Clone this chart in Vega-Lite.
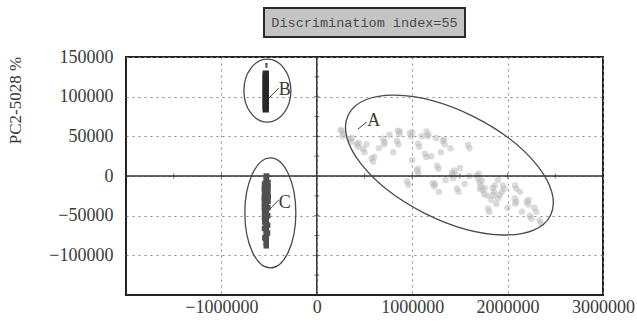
{
  "$schema": "https://vega.github.io/schema/vega-lite/v6.json",
  "autosize": {"type": "pad"},
  "padding": {"left": 5, "top": 7, "right": 0, "bottom": 0},
  "background": "white",
  "center": true,
  "bounds": "flush",
  "spacing": 20,
  "datasets": {
    "pts": [
      {"g":"A","x":262000,"y":57000},{"g":"A","x":280000,"y":53000},{"g":"A","x":270000,"y":50000},{"g":"A","x":250000,"y":58000},
      {"g":"A","x":345000,"y":47000},{"g":"A","x":360000,"y":43000},{"g":"A","x":368000,"y":48000},
      {"g":"A","x":420000,"y":40000},{"g":"A","x":435000,"y":37000},{"g":"A","x":440000,"y":42000},
      {"g":"A","x":485000,"y":34000},{"g":"A","x":500000,"y":30000},
      {"g":"A","x":575000,"y":22000},{"g":"A","x":590000,"y":18000},{"g":"A","x":600000,"y":24000},
      {"g":"A","x":695000,"y":47000},{"g":"A","x":710000,"y":43000},{"g":"A","x":705000,"y":40000},
      {"g":"A","x":850000,"y":57000},{"g":"A","x":865000,"y":53000},{"g":"A","x":870000,"y":56000},
      {"g":"A","x":840000,"y":44000},{"g":"A","x":855000,"y":40000},
      {"g":"A","x":975000,"y":54000},{"g":"A","x":990000,"y":50000},{"g":"A","x":1000000,"y":55000},
      {"g":"A","x":1060000,"y":41000},{"g":"A","x":1075000,"y":37000},
      {"g":"A","x":1150000,"y":56000},{"g":"A","x":1170000,"y":52000},{"g":"A","x":1160000,"y":50000},
      {"g":"A","x":1135000,"y":28000},{"g":"A","x":1150000,"y":24000},
      {"g":"A","x":1260000,"y":13000},{"g":"A","x":1275000,"y":9000},
      {"g":"A","x":1320000,"y":44000},{"g":"A","x":1340000,"y":40000},{"g":"A","x":1335000,"y":46000},
      {"g":"A","x":1050000,"y":7000},{"g":"A","x":1065000,"y":3000},{"g":"A","x":1060000,"y":9000},
      {"g":"A","x":945000,"y":-7000},{"g":"A","x":960000,"y":-11000},
      {"g":"A","x":1215000,"y":-9000},{"g":"A","x":1230000,"y":-13000},{"g":"A","x":1240000,"y":-10000},
      {"g":"A","x":1415000,"y":1000},{"g":"A","x":1430000,"y":-3000},{"g":"A","x":1420000,"y":4000},
      {"g":"A","x":1470000,"y":-16000},{"g":"A","x":1485000,"y":-20000},
      {"g":"A","x":1585000,"y":39000},{"g":"A","x":1600000,"y":35000},
      {"g":"A","x":1705000,"y":-8000},{"g":"A","x":1720000,"y":-13000},{"g":"A","x":1730000,"y":-6000},{"g":"A","x":1710000,"y":-16000},
      {"g":"A","x":1740000,"y":-18000},{"g":"A","x":1755000,"y":-23000},{"g":"A","x":1760000,"y":-15000},
      {"g":"A","x":1845000,"y":-15000},{"g":"A","x":1860000,"y":-20000},{"g":"A","x":1850000,"y":-24000},{"g":"A","x":1865000,"y":-12000},
      {"g":"A","x":1900000,"y":-28000},{"g":"A","x":1915000,"y":-24000},
      {"g":"A","x":1795000,"y":-41000},{"g":"A","x":1808000,"y":-45000},
      {"g":"A","x":1950000,"y":-12000},{"g":"A","x":1965000,"y":-16000},
      {"g":"A","x":2075000,"y":-28000},{"g":"A","x":2090000,"y":-32000},{"g":"A","x":2080000,"y":-35000},
      {"g":"A","x":2078000,"y":-12000},{"g":"A","x":2092000,"y":-16000},
      {"g":"A","x":2200000,"y":-32000},{"g":"A","x":2215000,"y":-36000},{"g":"A","x":2220000,"y":-30000},
      {"g":"A","x":2232000,"y":-50000},{"g":"A","x":2250000,"y":-54000},
      {"g":"A","x":2335000,"y":-56000},{"g":"A","x":2350000,"y":-60000},
      {"g":"A","x":1440000,"y":7000},{"g":"A","x":1450000,"y":2000},
      {"g":"A","x":1680000,"y":1000},{"g":"A","x":1695000,"y":-3000},{"g":"A","x":1700000,"y":3000},
      {"g":"A","x":1000000,"y":20000},{"g":"A","x":1200000,"y":25000},{"g":"A","x":1300000,"y":30000},
      {"g":"A","x":1500000,"y":10000},{"g":"A","x":1600000,"y":0},{"g":"A","x":1900000,"y":-5000},
      {"g":"A","x":2000000,"y":-40000},{"g":"A","x":2150000,"y":-45000},{"g":"A","x":2300000,"y":-45000},
      {"g":"A","x":800000,"y":30000},{"g":"A","x":650000,"y":35000},{"g":"A","x":1100000,"y":50000},
      {"g":"A","x":1250000,"y":48000},{"g":"A","x":1400000,"y":35000},{"g":"A","x":1830000,"y":-30000},
      {"g":"A","x":1880000,"y":-35000},{"g":"A","x":1790000,"y":-25000},{"g":"A","x":1940000,"y":-20000},
      {"g":"A","x":520000,"y":40000},{"g":"A","x":760000,"y":52000},{"g":"A","x":1280000,"y":-20000},
      {"g":"A","x":1350000,"y":-5000},{"g":"A","x":1550000,"y":-10000},{"g":"A","x":2130000,"y":-20000},
      {"g":"A","x":2280000,"y":-40000},
      {"g":"B","x":-535000,"y":84000},{"g":"B","x":-535000,"y":87000},{"g":"B","x":-535000,"y":90000},
      {"g":"B","x":-535000,"y":93000},{"g":"B","x":-535000,"y":96000},{"g":"B","x":-535000,"y":99000},
      {"g":"B","x":-535000,"y":102000},{"g":"B","x":-535000,"y":105000},{"g":"B","x":-535000,"y":108000},
      {"g":"B","x":-535000,"y":111000},{"g":"B","x":-535000,"y":114000},{"g":"B","x":-535000,"y":117000},
      {"g":"B","x":-535000,"y":120000},{"g":"B","x":-535000,"y":123000},{"g":"B","x":-535000,"y":126000},
      {"g":"B","x":-535000,"y":129000},
      {"g":"Bt","x":-528000,"y":138000},{"g":"Bt","x":-528000,"y":141000},
      {"g":"C","x":-530000,"y":0},{"g":"C","x":-530000,"y":-4000},{"g":"C","x":-530000,"y":-8000},
      {"g":"C","x":-530000,"y":-12000},{"g":"C","x":-530000,"y":-16000},{"g":"C","x":-530000,"y":-20000},
      {"g":"C","x":-530000,"y":-24000},{"g":"C","x":-530000,"y":-28000},{"g":"C","x":-530000,"y":-32000},
      {"g":"C","x":-530000,"y":-36000},{"g":"C","x":-530000,"y":-40000},{"g":"C","x":-530000,"y":-44000},
      {"g":"C","x":-530000,"y":-48000},{"g":"C","x":-530000,"y":-52000},{"g":"C","x":-530000,"y":-56000},
      {"g":"C","x":-530000,"y":-60000},{"g":"C","x":-530000,"y":-64000},{"g":"C","x":-530000,"y":-68000},
      {"g":"C","x":-530000,"y":-72000},{"g":"C","x":-530000,"y":-76000},{"g":"C","x":-530000,"y":-80000},
      {"g":"C","x":-530000,"y":-84000},{"g":"C","x":-530000,"y":-88000},
      {"g":"C","x":-548000,"y":-10000},{"g":"C","x":-550000,"y":-16000},{"g":"C","x":-548000,"y":-22000},
      {"g":"C","x":-551000,"y":-28000},{"g":"C","x":-549000,"y":-34000},{"g":"C","x":-550000,"y":-40000},
      {"g":"C","x":-547000,"y":-46000},{"g":"C","x":-549000,"y":-52000},{"g":"C","x":-546000,"y":-58000},
      {"g":"C","x":-548000,"y":-66000},{"g":"C","x":-545000,"y":-78000},
      {"g":"C","x":-512000,"y":-8000},{"g":"C","x":-510000,"y":-14000},{"g":"C","x":-512000,"y":-20000},
      {"g":"C","x":-509000,"y":-26000},{"g":"C","x":-511000,"y":-32000},{"g":"C","x":-513000,"y":-40000},
      {"g":"C","x":-514000,"y":-50000},{"g":"C","x":-515000,"y":-62000},{"g":"C","x":-516000,"y":-72000}
    ],
    "xt": [
      {"x":-1500000,"y":0},{"x":-1000000,"y":0},{"x":-500000,"y":0},{"x":500000,"y":0},
      {"x":1000000,"y":0},{"x":1500000,"y":0},{"x":2000000,"y":0},{"x":2500000,"y":0}
    ],
    "yt": [
      {"x":0,"y":125000},{"x":0,"y":100000},{"x":0,"y":75000},{"x":0,"y":50000},{"x":0,"y":25000},
      {"x":0,"y":-25000},{"x":0,"y":-50000},{"x":0,"y":-75000},{"x":0,"y":-100000},{"x":0,"y":-125000}
    ],
    "labels": [
      {"t":"A","x":597000,"y":69000},
      {"t":"B","x":-335000,"y":108000},
      {"t":"C","x":-335000,"y":-34000}
    ],
    "leaders": [
      {"x":429000,"y":59000,"x2":524000,"y2":68000},
      {"x":-503000,"y":98000,"x2":-398000,"y2":111000},
      {"x":-503000,"y":-43000,"x2":-398000,"y2":-30000}
    ]
  },
  "vconcat": [
    {
      "width": 201,
      "height": 29,
      "view": {"fill": "#c4c4c4", "stroke": "#2a2a2a", "strokeWidth": 2},
      "data": {"values": [{"t": "Discriminatiom index=55"}]},
      "mark": {"type": "text", "font": "Liberation Mono", "fontSize": 13.5, "color": "#4a4a4a", "align": "center", "baseline": "middle"},
      "encoding": {"text": {"field": "t"}}
    },
    {
      "width": 477,
      "height": 238,
      "view": {"stroke": "#222222", "strokeWidth": 2},
      "layer": [
        {
          "data": {"name": "pts"},
          "transform": [{"filter": "datum.g == 'A'"}],
          "mark": {"type": "point", "shape": "circle", "filled": true, "size": 42, "color": "#b8b8b8", "opacity": 0.5},
          "encoding": {
            "x": {"field": "x", "type": "quantitative",
                  "scale": {"domain": [-2000000, 3000000], "nice": false, "zero": false},
                  "axis": {"title": null, "values": [-1000000, 0, 1000000, 2000000, 3000000], "format": "d",
                           "labelFont": "Liberation Serif", "labelFontSize": 18, "labelColor": "#3a3a3a",
                           "labelPadding": 3, "ticks": false, "domain": false, "labelFlush": false, "labelOverlap": false,
                           "grid": true, "gridDash": [2, 4], "gridColor": "#8a8a8a", "gridWidth": 1}},
            "y": {"field": "y", "type": "quantitative",
                  "scale": {"domain": [-150000, 150000], "nice": false, "zero": false},
                  "axis": {"title": "PC2-5028 %", "values": [-100000, -50000, 0, 50000, 100000, 150000], "format": "d",
                           "labelFont": "Liberation Serif", "labelFontSize": 18, "labelColor": "#3a3a3a",
                           "labelPadding": 13, "ticks": false, "domain": false, "labelFlush": false, "labelOverlap": false,
                           "grid": true, "gridDash": [2, 4], "gridColor": "#8a8a8a", "gridWidth": 1,
                           "titleFont": "Liberation Serif", "titleFontSize": 17, "titleFontWeight": "normal",
                           "titleColor": "#3a3a3a", "titleX": -111, "titleY": 43, "titleAngle": -90,
                           "titleAlign": "center", "titleBaseline": "middle"}}
          }
        },
        {
          "data": {"values": [{"v": 0}]},
          "mark": {"type": "rule", "color": "#333333", "strokeWidth": 1.5},
          "encoding": {"x": {"datum": 0, "type": "quantitative"}}
        },
        {
          "data": {"values": [{"v": 0}]},
          "mark": {"type": "rule", "color": "#333333", "strokeWidth": 1.5},
          "encoding": {"y": {"datum": 0, "type": "quantitative"}}
        },
        {
          "data": {"name": "xt"},
          "mark": {"type": "tick", "orient": "vertical", "size": 5, "thickness": 1, "color": "#333333"},
          "encoding": {"x": {"field": "x", "type": "quantitative"}, "y": {"field": "y", "type": "quantitative"}}
        },
        {
          "data": {"name": "yt"},
          "mark": {"type": "tick", "orient": "horizontal", "size": 5, "thickness": 1, "color": "#333333"},
          "encoding": {"x": {"field": "x", "type": "quantitative"}, "y": {"field": "y", "type": "quantitative"}}
        },
        {
          "data": {"name": "pts"},
          "transform": [{"filter": "datum.g == 'B'"}],
          "mark": {"type": "point", "shape": "square", "filled": true, "size": 40, "color": "#262626", "opacity": 1},
          "encoding": {"x": {"field": "x", "type": "quantitative"}, "y": {"field": "y", "type": "quantitative"}}
        },
        {
          "data": {"name": "pts"},
          "transform": [{"filter": "datum.g == 'Bt'"}],
          "mark": {"type": "point", "shape": "square", "filled": true, "size": 5, "color": "#444444", "opacity": 1},
          "encoding": {"x": {"field": "x", "type": "quantitative"}, "y": {"field": "y", "type": "quantitative"}}
        },
        {
          "data": {"name": "pts"},
          "transform": [{"filter": "datum.g == 'C'"}],
          "mark": {"type": "point", "shape": "square", "filled": true, "size": 30, "color": "#505050", "opacity": 1},
          "encoding": {"x": {"field": "x", "type": "quantitative"}, "y": {"field": "y", "type": "quantitative"}}
        },
        {
          "data": {"values": [{"x": 1390000, "y": 13800}]},
          "mark": {"type": "point", "filled": false, "color": "#4a4a4a", "strokeWidth": 1.3, "opacity": 1, "angle": 26.5, "size": 51000,
                   "shape": "M -1 0 A 1 0.48 0 1 0 1 0 A 1 0.48 0 1 0 -1 0 Z"},
          "encoding": {"x": {"field": "x", "type": "quantitative"}, "y": {"field": "y", "type": "quantitative"}}
        },
        {
          "data": {"values": [{"x": -518000, "y": 107600}]},
          "mark": {"type": "point", "filled": false, "color": "#4a4a4a", "strokeWidth": 1.3, "opacity": 1, "size": 3969,
                   "shape": "M -0.746 0 A 0.746 1 0 1 0 0.746 0 A 0.746 1 0 1 0 -0.746 0 Z"},
          "encoding": {"x": {"field": "x", "type": "quantitative"}, "y": {"field": "y", "type": "quantitative"}}
        },
        {
          "data": {"values": [{"x": -487000, "y": -46600}]},
          "mark": {"type": "point", "filled": false, "color": "#4a4a4a", "strokeWidth": 1.3, "opacity": 1, "size": 12100,
                   "shape": "M -0.4636 0 A 0.4636 1 0 1 0 0.4636 0 A 0.4636 1 0 1 0 -0.4636 0 Z"},
          "encoding": {"x": {"field": "x", "type": "quantitative"}, "y": {"field": "y", "type": "quantitative"}}
        },
        {
          "data": {"name": "leaders"},
          "mark": {"type": "rule", "color": "#444444", "strokeWidth": 1},
          "encoding": {"x": {"field": "x", "type": "quantitative"}, "y": {"field": "y", "type": "quantitative"},
                       "x2": {"field": "x2"}, "y2": {"field": "y2"}}
        },
        {
          "data": {"name": "labels"},
          "mark": {"type": "text", "font": "Liberation Serif", "fontSize": 18, "color": "#3a3a3a", "align": "center", "baseline": "middle"},
          "encoding": {"x": {"field": "x", "type": "quantitative"}, "y": {"field": "y", "type": "quantitative"},
                       "text": {"field": "t"}}
        }
      ]
    }
  ]
}
